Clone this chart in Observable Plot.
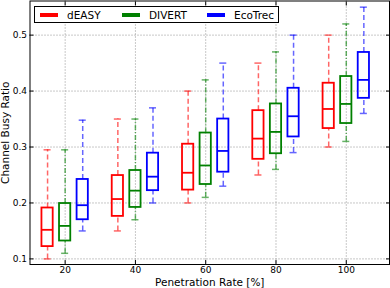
<!DOCTYPE html>
<html>
<head>
<meta charset="utf-8">
<script src="https://cdn.jsdelivr.net/npm/d3@7"></script>
<script src="https://cdn.jsdelivr.net/npm/@observablehq/plot@0.6"></script>
<style>
  html, body { margin: 0; padding: 0; background: #fff; }
  #wrap { position: relative; width: 390px; height: 288px; font-family: "DejaVu Sans", sans-serif; }
  #legend { position: absolute; left: 34px; top: 6px; width: 245px; height: 17px; border: 1px solid #000; background: #fff; box-sizing: border-box; font-size: 10.5px; }
  .item { position: absolute; top: 1px; line-height: 14px; }
  .sw { display: inline-block; width: 18px; height: 4px; vertical-align: middle; margin-right: 9px; position: relative; top: -1px; }
</style>
</head>
<body>
<div id="wrap"></div>
<script>
const rates = [20, 40, 60, 80, 100];
const methods = ["dEASY", "DIVERT", "EcoTrec"];
const colors = ["#ff0000", "#008000", "#0000ff"];
const offsets = [-5, 0, 5];
// [whiskerLow, q1, median, q3, whiskerHigh] per rate
const dEASY = [
  [0.100, 0.122, 0.152, 0.191, 0.295],
  [0.150, 0.176, 0.207, 0.249, 0.350],
  [0.200, 0.223, 0.254, 0.305, 0.400],
  [0.250, 0.278, 0.315, 0.365, 0.450],
  [0.300, 0.333, 0.368, 0.414, 0.500]
];
const DIVERT = [
  [0.110, 0.132, 0.159, 0.199, 0.295],
  [0.170, 0.192, 0.222, 0.258, 0.350],
  [0.210, 0.233, 0.267, 0.325, 0.420],
  [0.260, 0.288, 0.327, 0.377, 0.470],
  [0.310, 0.342, 0.377, 0.426, 0.520]
];
const EcoTrec = [
  [0.150, 0.170, 0.196, 0.242, 0.348],
  [0.200, 0.222, 0.247, 0.289, 0.370],
  [0.230, 0.255, 0.293, 0.350, 0.450],
  [0.290, 0.318, 0.355, 0.405, 0.500],
  [0.360, 0.387, 0.420, 0.469, 0.550]
];
const xTicks = [20, 40, 60, 80, 100];
const yTicks = [0.1, 0.2, 0.3, 0.4, 0.5];

const series = [dEASY, DIVERT, EcoTrec];
const data = [];
series.forEach((s, mi) => s.forEach((v, ri) => {
  data.push({method: methods[mi], color: colors[mi], pos: rates[ri] + offsets[mi],
    lo: v[0], q1: v[1], med: v[2], q3: v[3], hi: v[4], mi});
}));
const bw = 1.6, cw = 1.0;
const dash = ["5,3", "5,2,1,2", "5,3"];

const plot = Plot.plot({
  width: 390, height: 288,
  marginLeft: 29.5, marginRight: 1, marginTop: 0.5, marginBottom: 24,
  style: {fontFamily: "DejaVu Sans, sans-serif", fontSize: "9px", color: "#000"},
  x: {type: "linear", domain: [10, 112.3], ticks: xTicks, tickFormat: d => d},
  y: {type: "linear", domain: [0.09, 0.561], ticks: yTicks, tickFormat: d => d.toFixed(1)},
  marks: [
    Plot.gridX(xTicks, {stroke: "#777", strokeOpacity: 0.8, strokeDasharray: "1,2"}),
    Plot.gridY(yTicks, {stroke: "#777", strokeOpacity: 0.8, strokeDasharray: "1,2"}),
    // whiskers
    ...[0,1,2].map(mi => Plot.ruleX(data.filter(d => d.mi === mi), {x: "pos", y1: "lo", y2: "q1", stroke: "color", strokeWidth: 1.5, strokeOpacity: 0.6, strokeDasharray: dash[mi]})),
    ...[0,1,2].map(mi => Plot.ruleX(data.filter(d => d.mi === mi), {x: "pos", y1: "q3", y2: "hi", stroke: "color", strokeWidth: 1.5, strokeOpacity: 0.6, strokeDasharray: dash[mi]})),
    // caps
    Plot.ruleY(data, {y: "lo", x1: d => d.pos - cw, x2: d => d.pos + cw, stroke: "color", strokeWidth: 1.5, strokeOpacity: 0.6}),
    Plot.ruleY(data, {y: "hi", x1: d => d.pos - cw, x2: d => d.pos + cw, stroke: "color", strokeWidth: 1.5, strokeOpacity: 0.6}),
    // boxes
    Plot.rect(data, {x1: d => d.pos - bw, x2: d => d.pos + bw, y1: "q1", y2: "q3", fill: "none", stroke: "color", strokeWidth: 1.8}),
    Plot.ruleY(data, {y: "med", x1: d => d.pos - bw, x2: d => d.pos + bw, stroke: "color", strokeWidth: 1.8}),
    Plot.frame({stroke: "#000", strokeWidth: 1}),
    Plot.axisX({anchor: "bottom", ticks: xTicks, tickSize: -4, tickPadding: 6, tickFormat: d => d, label: "Penetration Rate [%]", labelAnchor: "center", labelArrow: "none", labelOffset: 21}),
    Plot.axisX({anchor: "top", ticks: xTicks, tickSize: -4, tickFormat: () => "", label: null, ariaLabel: "xtop"}),
    Plot.axisY({anchor: "left", ticks: yTicks, tickSize: -4, tickPadding: 7, tickFormat: d => d.toFixed(1), label: "Channel Busy Ratio", labelAnchor: "center", labelArrow: "none", labelOffset: 28}),
    Plot.axisY({anchor: "right", ticks: yTicks, tickSize: -4, tickFormat: () => "", label: null, ariaLabel: "yright"})
  ]
});
const wrap = document.getElementById("wrap");
wrap.appendChild(plot);
plot.querySelectorAll("[aria-label='x-axis label'] text, [aria-label='y-axis label'] text").forEach(t => t.style.fontSize = "10.5px");
plot.querySelectorAll("text").forEach(t => { if (t.textContent === "") t.remove(); });

const legend = document.createElement("div");
legend.id = "legend";
const lx = [5, 87, 172];
methods.forEach((m, i) => {
  const it = document.createElement("div");
  it.className = "item";
  it.style.left = lx[i] + "px";
  const sw = document.createElement("span");
  sw.className = "sw";
  sw.style.background = colors[i];
  it.appendChild(sw);
  it.appendChild(document.createTextNode(m));
  legend.appendChild(it);
});
wrap.appendChild(legend);
</script>
</body>
</html>
